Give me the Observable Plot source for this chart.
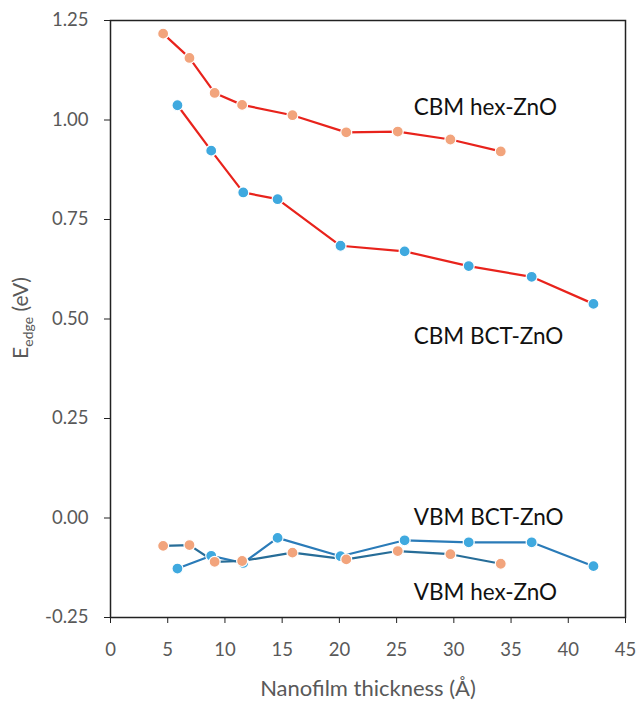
<!DOCTYPE html>
<html>
<head>
<meta charset="utf-8">
<script src="https://cdn.jsdelivr.net/npm/d3@7"></script>
<script src="https://cdn.jsdelivr.net/npm/@observablehq/plot@0.6"></script>
<style>
  html, body { margin: 0; padding: 0; background: #fff; }
  #chart svg { display: block; }
</style>
</head>
<body>
<div id="chart"></div>
<script>
// ---- data ----
const hexX   = [4.6, 6.9, 9.1, 11.5, 15.9, 20.6, 25.1, 29.7, 34.1];
const hexCBM = [1.217, 1.156, 1.068, 1.038, 1.012, 0.969, 0.971, 0.951, 0.921];
const hexVBM = [-0.070, -0.068, -0.110, -0.108, -0.087, -0.104, -0.083, -0.091, -0.115];
const bctX   = [5.85, 8.8, 11.6, 14.6, 20.1, 25.7, 31.3, 36.8, 42.2];
const bctCBM = [1.037, 0.923, 0.818, 0.801, 0.684, 0.670, 0.633, 0.606, 0.538];
const bctVBM = [-0.127, -0.095, -0.113, -0.050, -0.096, -0.056, -0.061, -0.061, -0.121];

const xTicks = [0, 5, 10, 15, 20, 25, 30, 35, 40, 45];
const yTicks = [-0.25, 0, 0.25, 0.5, 0.75, 1.0, 1.25];

const labelText = ["CBM hex-ZnO", "CBM BCT-ZnO", "VBM BCT-ZnO", "VBM hex-ZnO"];
const labelX    = [26.5, 26.5, 26.5, 26.5];
const labelY    = [1.03, 0.455, 0.0, -0.188];

const xTitle = "Nanofilm thickness (Å)";

// ---- tables ----
const rows = (xs, ys) => xs.map((x, i) => ({x, y: ys[i]}));
const hexC = rows(hexX, hexCBM), hexV = rows(hexX, hexVBM);
const bctC = rows(bctX, bctCBM), bctV = rows(bctX, bctVBM);
const labels = labelText.map((t, i) => ({t, x: labelX[i], y: labelY[i]}));

const orange = "#f2a47c", blue = "#3fa9df", red = "#e8231c";
const font = "Lato, 'Open Sans', sans-serif";

const chart = Plot.plot({
  width: 637,
  height: 707,
  marginLeft: 110,
  marginRight: 12,
  marginTop: 20,
  marginBottom: 90,
  style: {fontFamily: font, background: "#fff"},
  x: {domain: [0, 45], ticks: xTicks, label: null},
  y: {domain: [-0.25, 1.25], ticks: yTicks, label: null},
  marks: [
    Plot.frame({stroke: "#222", strokeWidth: 1.5}),
    Plot.axisX({ticks: xTicks, tickSize: 6, tickPadding: 19, fontSize: 18.5, fill: "#595959", stroke: "#222", label: null}),
    Plot.axisY({ticks: yTicks, tickSize: 6, tickPadding: 16, fontSize: 18.5, fill: "#595959", stroke: "#222", tickFormat: d => d.toFixed(2), label: null}),
    Plot.line(hexC, {x: "x", y: "y", stroke: red, strokeWidth: 2.2}),
    Plot.line(bctC, {x: "x", y: "y", stroke: red, strokeWidth: 2.2}),
    Plot.line(bctV, {x: "x", y: "y", stroke: "#2a7bb8", strokeWidth: 2.2}),
    Plot.line(hexV, {x: "x", y: "y", stroke: "#276d98", strokeWidth: 2.2}),
    Plot.dot(bctC, {x: "x", y: "y", r: 5.5, fill: blue, stroke: "#fff", strokeWidth: 1.2}),
    Plot.dot(hexC, {x: "x", y: "y", r: 5.5, fill: orange, stroke: "#fff", strokeWidth: 1.2}),
    Plot.dot(bctV, {x: "x", y: "y", r: 5.5, fill: blue, stroke: "#fff", strokeWidth: 1.2}),
    Plot.dot(hexV, {x: "x", y: "y", r: 5.5, fill: orange, stroke: "#fff", strokeWidth: 1.2}),
    Plot.text(labels, {x: "x", y: "y", text: "t", textAnchor: "start", fontSize: 22.5, fill: "#111"}),
    Plot.text([xTitle], {frameAnchor: "bottom", dy: 78, text: d => d, fontSize: 22, fill: "#595959"})
  ]
});

document.getElementById("chart").appendChild(chart);

// rotated y-axis title with subscript
const svg = d3.select(chart);
const t = svg.append("text")
  .attr("transform", "translate(28,318) rotate(-90)")
  .attr("text-anchor", "middle")
  .attr("fill", "#595959")
  .attr("font-family", font)
  .attr("font-size", 21);
t.append("tspan").text("E");
t.append("tspan").attr("font-size", 14).attr("dy", 5).text("edge");
t.append("tspan").attr("dy", -5).text(" (eV)");
</script>
</body>
</html>
